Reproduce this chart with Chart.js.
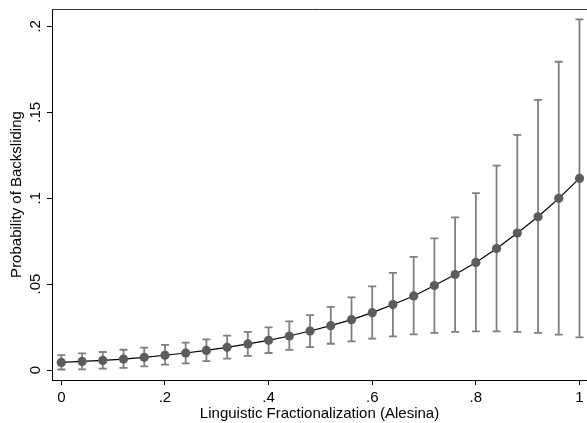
<!DOCTYPE html>
<html>
<head>
<meta charset="utf-8">
<script src="https://cdn.jsdelivr.net/npm/chart.js@4/dist/chart.umd.min.js"></script>
<style>
  html, body { margin: 0; padding: 0; background: #fff; }
  #wrap { width: 587px; height: 423px; }
</style>
</head>
<body>
<div id="wrap"><canvas id="chart" width="587" height="423"></canvas></div>
<script>
// predicted probability of backsliding with 95% CI, by fractionalization
const fraction = [0, 0.04, 0.08, 0.12, 0.16, 0.2, 0.24, 0.28, 0.32, 0.36, 0.4, 0.44, 0.48,
  0.52, 0.56, 0.6, 0.64, 0.68, 0.72, 0.76, 0.8, 0.84, 0.88, 0.92, 0.96, 1];
const prob = [0.0044, 0.0050, 0.0056, 0.0064, 0.0074, 0.0086, 0.0099, 0.0114, 0.0132, 0.0152,
  0.0173, 0.0198, 0.0227, 0.0258, 0.0293, 0.0334, 0.0381, 0.0431, 0.0492, 0.0556,
  0.0626, 0.0707, 0.0797, 0.0892, 0.0999, 0.1115];
const upper = [0.0087, 0.0097, 0.0105, 0.0118, 0.0130, 0.0146, 0.0160, 0.0178, 0.0200, 0.0222,
  0.0248, 0.0283, 0.0319, 0.0367, 0.0423, 0.0487, 0.0565, 0.0658, 0.0766, 0.0888,
  0.1030, 0.1190, 0.1368, 0.1572, 0.1794, 0.2041];
const lower = [0.0003, 0.0004, 0.0008, 0.0013, 0.0021, 0.0031, 0.0039, 0.0052, 0.0066, 0.0082,
  0.0099, 0.0117, 0.0133, 0.0153, 0.0167, 0.0183, 0.0196, 0.0208, 0.0216, 0.0222,
  0.0225, 0.0225, 0.0222, 0.0216, 0.0206, 0.0190];
const xTicks = [0, 0.2, 0.4, 0.6, 0.8, 1];
const yTicks = [0, 0.05, 0.1, 0.15, 0.2];

const FONT = "'Liberation Sans', Arial, sans-serif";

// stata style labels: .2 instead of 0.2
function stataNum(v) {
  const s = String(Math.round(v * 1000) / 1000);
  return s.replace(/^0\./, '.');
}

// CI spikes with caps, drawn under the line
const ciBars = {
  id: 'ciBars',
  beforeDatasetsDraw(chart) {
    const { ctx, scales: { x, y } } = chart;
    ctx.save();
    ctx.strokeStyle = '#7f7f7f';
    ctx.lineWidth = 1.8;
    for (let i = 0; i < fraction.length; i++) {
      const px = x.getPixelForValue(fraction[i]);
      const top = y.getPixelForValue(upper[i]);
      const bot = y.getPixelForValue(lower[i]);
      ctx.beginPath();
      ctx.moveTo(px, top); ctx.lineTo(px, bot);
      ctx.moveTo(px - 4, top); ctx.lineTo(px + 4, top);
      ctx.moveTo(px - 4, bot); ctx.lineTo(px + 4, bot);
      ctx.stroke();
    }
    ctx.restore();
  }
};

// rotated y tick labels and the plot region's top outline
const frame = {
  id: 'frame',
  afterDraw(chart) {
    const { ctx, chartArea, scales: { y } } = chart;
    ctx.save();
    ctx.strokeStyle = '#333';
    ctx.lineWidth = 1;
    ctx.beginPath();
    ctx.moveTo(chartArea.left, chartArea.top + 0.5);
    ctx.lineTo(chartArea.right, chartArea.top + 0.5);
    ctx.stroke();

    ctx.fillStyle = '#000';
    ctx.font = '15px ' + FONT;
    ctx.textAlign = 'center';
    ctx.textBaseline = 'middle';
    yTicks.forEach(v => {
      ctx.save();
      ctx.translate(36, y.getPixelForValue(v));
      ctx.rotate(-Math.PI / 2);
      ctx.fillText(stataNum(v), 0, 0);
      ctx.restore();
    });
    ctx.restore();
  }
};

new Chart(document.getElementById('chart'), {
  type: 'line',
  data: {
    datasets: [{
      data: fraction.map((f, i) => ({ x: f, y: prob[i] })),
      borderColor: '#000',
      borderWidth: 1.2,
      pointRadius: 4.6,
      pointBackgroundColor: '#5c5c5c',
      pointBorderWidth: 0,
      tension: 0,
      clip: false
    }]
  },
  options: {
    responsive: false,
    animation: false,
    devicePixelRatio: 1,
    layout: { autoPadding: false, padding: { top: 9, right: 0, left: 0, bottom: 0 } },
    plugins: { legend: { display: false }, tooltip: { enabled: false } },
    scales: {
      x: {
        type: 'linear',
        min: -0.018,
        max: 1.0145,
        afterFit(scale) {
          scale.height = 43;
          scale.paddingLeft = 0;
          scale.paddingRight = 0;
        },
        afterBuildTicks(scale) { scale.ticks = xTicks.map(v => ({ value: v })); },
        border: { color: '#000', width: 1 },
        grid: { drawOnChartArea: false, drawTicks: true, tickLength: 5, color: '#000' },
        ticks: {
          font: { family: FONT, size: 15 },
          color: '#000',
          padding: 4,
          maxRotation: 0,
          callback: v => stataNum(v)
        },
        title: {
          display: true,
          text: 'Linguistic Fractionalization (Alesina)',
          font: { family: FONT, size: 15 },
          color: '#000',
          padding: { top: 0, bottom: 0 }
        }
      },
      y: {
        type: 'linear',
        min: -0.0058,
        max: 0.2101,
        afterFit(scale) {
          scale.width = 52;
          scale.paddingTop = 0;
          scale.paddingBottom = 0;
        },
        afterBuildTicks(scale) { scale.ticks = yTicks.map(v => ({ value: v })); },
        border: { color: '#000', width: 1 },
        grid: { drawOnChartArea: false, drawTicks: true, tickLength: 5, color: '#000' },
        ticks: {
          font: { family: FONT, size: 15 },
          color: 'rgba(0,0,0,0)',
          callback: v => stataNum(v)
        },
        title: {
          display: true,
          text: 'Probability of Backsliding',
          font: { family: FONT, size: 15 },
          color: '#000',
          padding: { top: 8, bottom: 0 }
        }
      }
    }
  },
  plugins: [ciBars, frame]
});
</script>
</body>
</html>
